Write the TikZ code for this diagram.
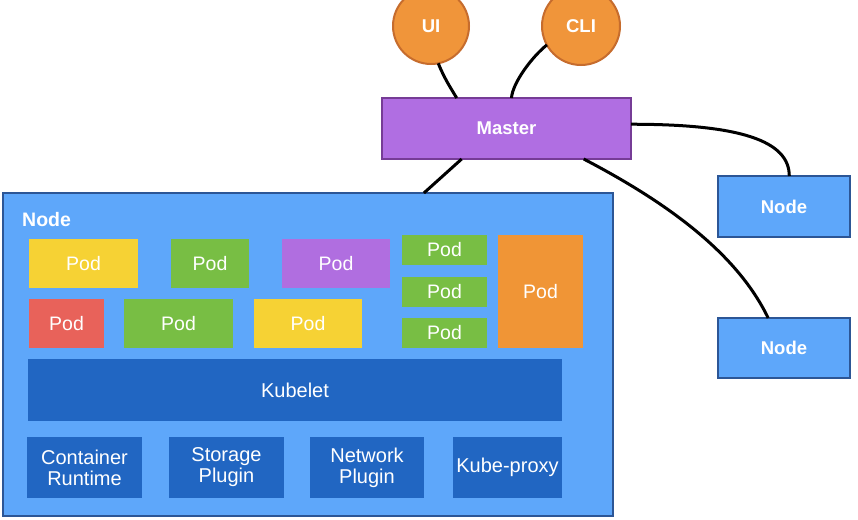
\documentclass[tikz,border=0pt]{standalone}
\usepackage{fontspec}
\setmainfont{Liberation Sans}
\usetikzlibrary{calc}
\definecolor{nodeblue}{RGB}{94,167,250}
\definecolor{borderblue}{RGB}{44,86,150}
\definecolor{kubeblue}{RGB}{33,102,194}
\definecolor{podyellow}{RGB}{246,210,52}
\definecolor{podgreen}{RGB}{120,190,68}
\definecolor{podpurple}{RGB}{176,110,224}
\definecolor{podred}{RGB}{232,98,90}
\definecolor{podorange}{RGB}{240,149,54}
\definecolor{masterfill}{RGB}{176,110,226}
\definecolor{masterborder}{RGB}{118,60,150}
\definecolor{circfill}{RGB}{240,149,58}
\definecolor{circborder}{RGB}{198,108,45}
\begin{document}
\begin{tikzpicture}[x=1pt,y=-1pt,
  box/.style={rectangle, inner sep=0pt, outer sep=0pt, text=white, align=center},
  pod/.style={box, font=\fontsize{19.5}{22}\selectfont},
  comp/.style={box, fill=kubeblue, font=\fontsize{20}{21}\selectfont},
  hostnode/.style={box, fill=nodeblue, draw=borderblue, line width=2.5pt, font=\bfseries\fontsize{18.5}{22}\selectfont},
  client/.style={circle, inner sep=0pt, outer sep=0pt, minimum size=76pt, fill=circfill, draw=circborder, line width=2pt, text=white, font=\bfseries\fontsize{18.5}{22}\selectfont},
  link/.style={draw=black, line width=3pt}]
\useasboundingbox (0,0) rectangle (858,519);
\fill[white] (0,0) rectangle (858,519);

% big node
\node[hostnode, minimum width=610pt, minimum height=323pt] (big) at (308,354.5) {};
\node[anchor=west, text=white, font=\bfseries\fontsize{19.5}{22}\selectfont, inner sep=0pt] (biglabel) at (22,220) {Node};

% pods
\node[pod, fill=podyellow, minimum width=109pt, minimum height=49pt] (p1) at (83.5,263.5) {Pod};
\node[pod, fill=podgreen, minimum width=78pt, minimum height=49pt] (p2) at (210,263.5) {Pod};
\node[pod, fill=podpurple, minimum width=108pt, minimum height=49pt] (p3) at (336,263.5) {Pod};
\node[pod, fill=podred, minimum width=75pt, minimum height=49pt] (p4) at (66.5,323.5) {Pod};
\node[pod, fill=podgreen, minimum width=109pt, minimum height=49pt] (p5) at (178.5,323.5) {Pod};
\node[pod, fill=podyellow, minimum width=108pt, minimum height=49pt] (p6) at (308,323.5) {Pod};
\node[pod, fill=podgreen, minimum width=85pt, minimum height=30pt] (p7) at (444.5,250) {Pod};
\node[pod, fill=podgreen, minimum width=85pt, minimum height=30pt] (p8) at (444.5,292) {Pod};
\node[pod, fill=podgreen, minimum width=85pt, minimum height=30pt] (p9) at (444.5,333) {Pod};
\node[pod, fill=podorange, minimum width=85pt, minimum height=113pt] (p10) at (540.5,291.5) {Pod};

% kubelet and components
\node[comp, minimum width=534pt, minimum height=62pt] (kubelet) at (295,390) {Kubelet};
\node[comp, minimum width=115pt, minimum height=61pt] (cr) at (84.5,467.5) {Container\\Runtime};
\node[comp, minimum width=115pt, minimum height=61pt] (sp) at (226.5,467.5) {Storage\\Plugin};
\node[comp, minimum width=114pt, minimum height=61pt] (np) at (367,467.5) {Network\\Plugin};
\node[comp, minimum width=109pt, minimum height=61pt] (kp) at (507.5,467.5) {Kube-proxy};

% master, clients, other nodes
\node[box, fill=masterfill, draw=masterborder, line width=2.5pt, minimum width=249pt, minimum height=61pt, font=\bfseries\fontsize{18.5}{22}\selectfont] (master) at (506.5,128.5) {Master};
\node[client] (ui) at (431,26) {UI};
\node[client, minimum size=78pt] (cli) at (581,26) {CLI};
\node[hostnode, minimum width=132pt, minimum height=61pt] (n1) at (784,206.5) {Node};
\node[hostnode, minimum width=132pt, minimum height=60pt] (n2) at (784,348) {Node};

% connectors
\draw[link] (ui.281) .. controls +(6,15) and +(-6,-10) .. ($(master.north west)!0.3!(master.north east)$);
\draw[link] (cli.209) .. controls +(-15,12) and +(1,-15) .. ($(master.north west)!0.52!(master.north east)$);
\draw[link] ($(master.south west)!0.32!(master.south east)$) -- ($(big.north west)!0.69!(big.north east)$);
\draw[link] ($(master.north east)!0.43!(master.south east)$) .. controls +(110,0) and +(0,-35) .. ($(n1.north west)!0.54!(n1.north east)$);
\draw[link] ($(master.south west)!0.81!(master.south east)$) .. controls +(96,50) and +(-28,-58) .. ($(n2.north west)!0.38!(n2.north east)$);
\end{tikzpicture}
\end{document}
